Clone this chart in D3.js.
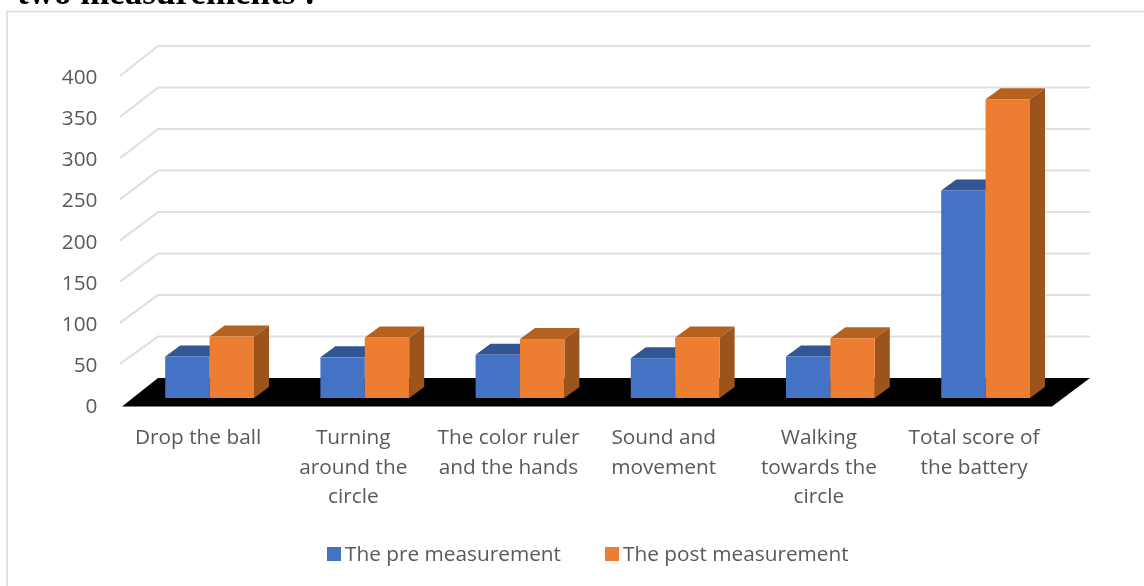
<!DOCTYPE html>
<html>
<head>
<meta charset="utf-8">
<script src="https://cdn.jsdelivr.net/npm/d3@7"></script>
<style>
	html, body { margin: 0; padding: 0; background: #fff; overflow: hidden; }
	svg { display: block; filter: blur(0.5px); }
	text { font-family: "Open Sans", sans-serif; fill: #595959; }
</style>
</head>
<body>
<script>
const categories = [
	["Drop the ball"],
	["Turning", "around the", "circle"],
	["The color ruler", "and the hands"],
	["Sound and", "movement"],
	["Walking", "towards the", "circle"],
	["Total score of", "the battery"],
];
const preValues = [50, 49, 52, 48, 50, 250];
const postValues = [74, 73, 71, 73, 72, 360];
const yTicks = [0, 50, 100, 150, 200, 250, 300, 350, 400];
const seriesNames = ["The pre measurement", "The post measurement"];

const colors = {
	pre: { front: "#4472c4", top: "#335593", side: "#2f5597" },
	post: { front: "#ed7d31", top: "#b5611f", side: "#9c541d" },
	grid: "#e0e0e0",
	frame: "#d9d9d9",
};
const depth = { dx: 15, dy: 11 };
const fontSize = "20.8px";

const svg = d3.select("body").append("svg").attr("width", 1144).attr("height", 586);

// leftover line of the document above the chart
svg.append("text")
	.attr("x", 17)
	.attr("y", 3.5)
	.style("font-family", "'Liberation Serif', serif")
	.style("font-weight", "bold")
	.style("font-size", "35px")
	.style("fill", "#000")
	.text("two measurements :");

// chart frame runs off the right and bottom of the crop
svg.append("path")
	.attr("d", "M7,586V11.5H1144")
	.attr("fill", "none")
	.attr("stroke", colors.frame)
	.attr("stroke-width", 1.5);

// Scales: axis labels on the front plane, gridlines on the back wall, bars in between
const yFront = d3.scaleLinear().domain([0, 400]).range([405, 76]);
const yBack = d3.scaleLinear().domain([0, 400]).range([378, 46]);
const yBar = d3.scaleLinear().domain([0, 400]).range([398, 66]);
const x = d3.scaleBand().domain(d3.range(categories.length)).range([132, 1063.2]);
const barWidth = 44.4;

// Gridlines
svg.append("g")
	.selectAll("path")
	.data(yTicks.filter((d) => d > 0))
	.enter()
	.append("path")
	.attr("d", (d) => `M120,${yFront(d)}L158,${yBack(d)}H1090`)
	.attr("fill", "none")
	.attr("stroke", colors.grid)
	.attr("stroke-width", 2.2);

// Black floor
svg.append("polygon")
	.attr("points", `122,${yFront(0) + 1.5} 1052,${yFront(0) + 1.5} 1090,${yBack(0)} 158,${yBack(0)}`)
	.attr("fill", "#000");

// Y axis
const yAxis = svg.append("g")
	.attr("transform", "translate(97.5,0)")
	.call(d3.axisLeft(yFront).tickValues(yTicks).tickSize(0).tickPadding(0));
yAxis.select(".domain").remove();
yAxis.selectAll("text")
	.style("font-size", fontSize)
	.attr("dy", "0.36em");

// Bars
function bar3d(g, left, value, c) {
	const top = yBar(value);
	const base = yBar(0);
	const right = left + barWidth;
	g.append("polygon")
		.attr("points", `${left},${top} ${left + depth.dx},${top - depth.dy} ${right + depth.dx},${top - depth.dy} ${right},${top}`)
		.attr("fill", c.top);
	g.append("polygon")
		.attr("points", `${right},${top} ${right + depth.dx},${top - depth.dy} ${right + depth.dx},${base - depth.dy} ${right},${base}`)
		.attr("fill", c.side);
	g.append("rect")
		.attr("x", left)
		.attr("y", top)
		.attr("width", barWidth)
		.attr("height", base - top)
		.attr("fill", c.front);
}

const barGroup = svg.append("g");
categories.forEach((_, i) => {
	const centre = x(i) + x.bandwidth() / 2;
	bar3d(barGroup, centre - barWidth, preValues[i], colors.pre);
	bar3d(barGroup, centre, postValues[i], colors.post);
});

// Category labels
svg.append("g")
	.selectAll("text")
	.data(categories)
	.enter()
	.append("text")
	.attr("text-anchor", "middle")
	.style("font-size", fontSize)
	.each(function (lines, i) {
		d3.select(this)
			.selectAll("tspan")
			.data(lines)
			.enter()
			.append("tspan")
			.attr("x", x(i) + x.bandwidth() / 2 - 11.5)
			.attr("y", (d, j) => 444 + j * 29.7)
			.text((d) => d);
	});

// Legend
const legendItems = [
	{ name: seriesNames[0], swatch: 327, c: colors.pre.front },
	{ name: seriesNames[1], swatch: 605, c: colors.post.front },
];
const legend = svg.append("g");
legendItems.forEach((d) => {
	legend.append("rect")
		.attr("x", d.swatch)
		.attr("y", 547)
		.attr("width", 14)
		.attr("height", 14)
		.attr("fill", d.c);
	legend.append("text")
		.attr("x", d.swatch + 18)
		.attr("y", 561)
		.style("font-size", fontSize)
		.text(d.name);
});
</script>
</body>
</html>
